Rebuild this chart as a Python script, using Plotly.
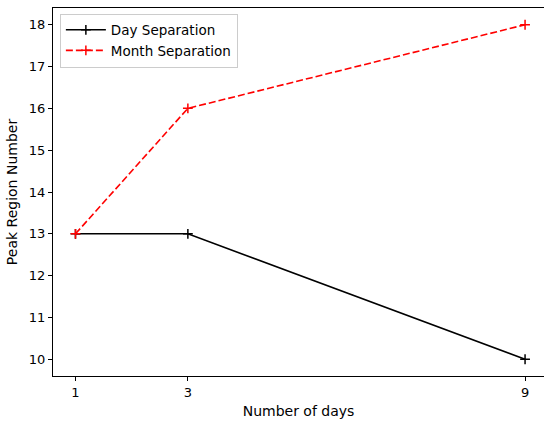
import plotly.graph_objects as go

days = [1, 3, 9]
day_sep = [13, 13, 10]
month_sep = [13, 16, 18]
x_ticks = [1, 3, 9]
y_ticks = [10, 11, 12, 13, 14, 15, 16, 17, 18]

fig = go.Figure()
fig.add_trace(go.Scatter(
    x=days, y=day_sep, mode="lines+markers", name="Day Separation",
    line=dict(color="black", width=1.6),
    marker=dict(symbol="cross-thin", size=7, line=dict(color="black", width=1.5)),
))
fig.add_trace(go.Scatter(
    x=days, y=month_sep, mode="lines+markers", name="Month Separation",
    line=dict(color="red", width=1.6, dash="7px,3px"),
    marker=dict(symbol="cross-thin", size=7, line=dict(color="red", width=1.5)),
))

fs = 13
axis_common = dict(
    showgrid=False, zeroline=False, showline=True, linecolor="black", linewidth=1,
    ticks="outside", ticklen=4, tickcolor="black", tickwidth=1,
    tickfont=dict(family="DejaVu Sans", size=fs, color="black"),
)
fig.update_layout(
    width=544, height=421,
    margin=dict(l=53, r=0, t=8, b=45),
    paper_bgcolor="white", plot_bgcolor="white",
    font=dict(family="DejaVu Sans", size=fs, color="black"),
    xaxis=dict(range=[0.6, 9.337], tickvals=x_ticks, mirror=True,
               title=dict(text="Number of days", standoff=7, font=dict(size=14)), **axis_common),
    yaxis=dict(range=[9.6, 18.4], tickvals=y_ticks, mirror=False,
               title=dict(text="Peak Region Number", standoff=7, font=dict(size=14)), **axis_common),
    legend=dict(x=0.014, y=0.985, xanchor="left", yanchor="top",
                bgcolor="rgba(255,255,255,0.8)", bordercolor="#cccccc", borderwidth=1,
                font=dict(size=13.5), tracegroupgap=0, itemwidth=40),
    showlegend=True,
)
fig.write_html("out.html")
